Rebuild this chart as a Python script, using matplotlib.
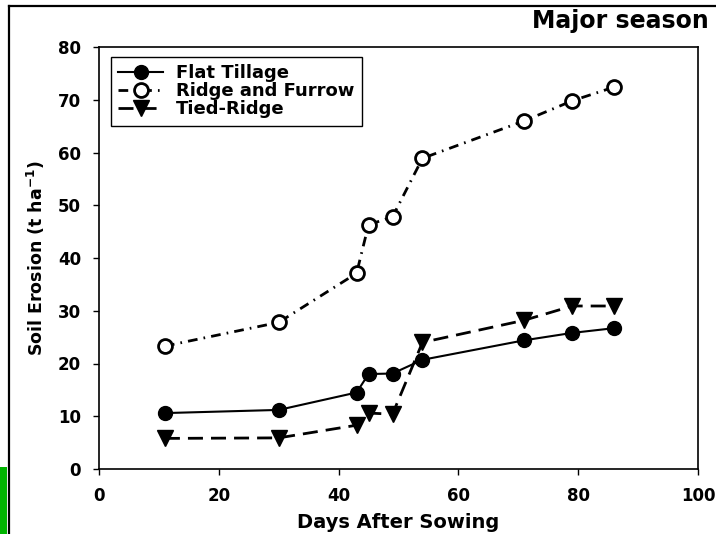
import matplotlib.pyplot as plt
from matplotlib.lines import Line2D
from matplotlib.patches import Rectangle

plt.rcParams['font.family'] = ['DejaVu Sans']
plt.rcParams['font.weight'] = 'bold'
plt.rcParams['mathtext.default'] = 'bf'

days = [11, 30, 43, 45, 49, 54, 71, 79, 86]
flat_tillage = [10.6, 11.2, 14.5, 18.0, 18.1, 20.7, 24.4, 25.8, 26.7]
ridge_furrow = [23.3, 27.8, 37.1, 46.3, 47.8, 58.9, 66.0, 69.8, 72.4]
tied_ridge = [5.8, 5.9, 8.3, 10.6, 10.4, 24.0, 28.2, 30.9, 30.9]

names = ["Flat Tillage", "Ridge and Furrow", "Tied-Ridge"]

fig = plt.figure(figsize=(7.16, 5.34), dpi=100)
ax = fig.add_axes([99/716, 65/534, 599/716, 422/534])

ax.plot(days, flat_tillage, color='black', lw=1.5, ls='-',
        marker='o', ms=10, mfc='black', mec='black', label=names[0])
ax.plot(days, ridge_furrow, color='black', lw=2, ls=(0, (3.5, 2.2, 0.6, 2.2)),
        marker='o', ms=10, mfc='white', mec='black', mew=2, label=names[1])
ax.plot(days, tied_ridge, color='black', lw=2, ls=(0, (5.4, 2.9)),
        marker='v', ms=11, mfc='black', mec='black', label=names[2])

ax.set_xlim(0, 100)
ax.set_ylim(0, 80)
ax.set_xticks(range(0, 101, 20))
ax.set_yticks(range(0, 81, 10))
ax.tick_params(direction='out', length=4, width=1, pad=9, labelsize=12)
for s in ax.spines.values():
    s.set_linewidth(1.2)

ax.set_xlabel("Days After Sowing", fontsize=14, fontweight='bold', labelpad=6)
ax.set_ylabel(r"Soil Erosion (t ha$^{-1}$)", fontsize=12.5, fontweight='bold', labelpad=8)

leg = ax.legend(loc='upper left', bbox_to_anchor=(0.02, 0.976), borderaxespad=0,
                fontsize=13, handlelength=2.5, handletextpad=0.7, labelspacing=0,
                borderpad=0.4, fancybox=False, edgecolor='black', framealpha=1)
leg.get_frame().set_linewidth(1)
for t in leg.get_texts():
    t.set_fontweight('bold')

fig.text(709/716, 1 - 21/534, "Major season", ha='right', va='center',
         fontsize=17, fontweight='bold')

# frame lines and green patch around the figure
fig.add_artist(Line2D([9/716, 1], [1 - 6/534, 1 - 6/534], color='black', lw=1.6))
fig.add_artist(Line2D([9/716, 9/716], [0, 1 - 6/534], color='black', lw=1.6))
fig.add_artist(Rectangle((0, 0), 7/716, 67/534, color='#00b400', lw=0))

fig.savefig("out.png", dpi=100)
